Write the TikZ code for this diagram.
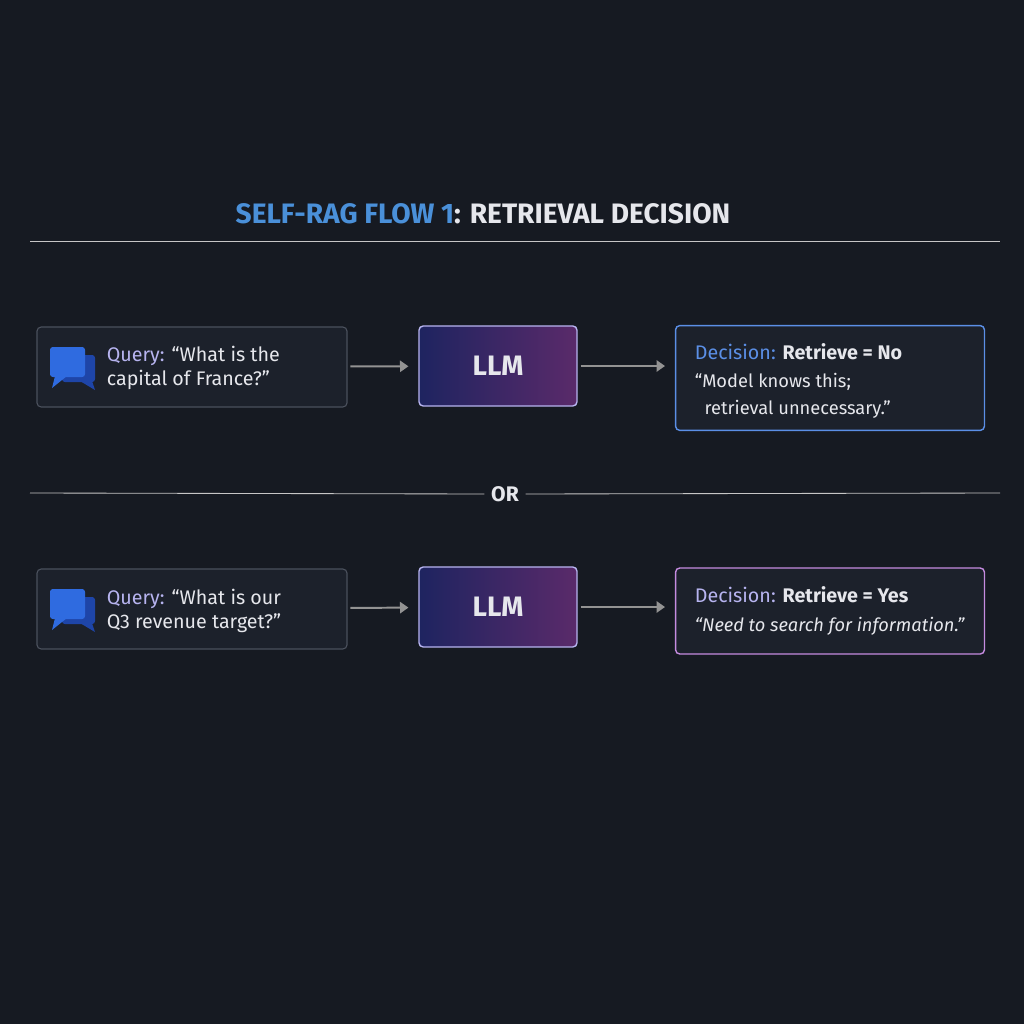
\documentclass[tikz,border=0pt]{standalone}
\usepackage{fontspec}
\setmainfont{Fira Sans}
\usetikzlibrary{positioning,arrows.meta,shadings,calc}
\definecolor{bgc}{HTML}{161A22}
\definecolor{boxc}{HTML}{1C212B}
\definecolor{edgec}{HTML}{4A505C}
\definecolor{blueT}{HTML}{4A90D9}
\definecolor{lilac}{HTML}{B7B4F0}
\definecolor{txt}{HTML}{E6E7EC}
\definecolor{bluebox}{HTML}{5B8FE6}
\definecolor{pinkbox}{HTML}{C58BE0}
\definecolor{llmL}{HTML}{1E2460}
\definecolor{llmR}{HTML}{5A2A6A}
\definecolor{bubF}{HTML}{2F6BE0}
\definecolor{bubB}{HTML}{1E45A8}
\newcommand\qsize{\fontsize{13}{15}\selectfont}
\tikzset{
  qbox/.style={draw=edgec, fill=boxc, rounded corners=3pt, line width=0.8pt,
    minimum width=7.75cm, minimum height=2cm},
  llm/.style={draw=lilac, rounded corners=3pt, line width=1pt,
    left color=llmL, right color=llmR,
    minimum width=3.95cm, minimum height=2cm, text=txt, font=\fontsize{20}{20}\selectfont\bfseries},
  dbox/.style={draw=#1, fill=boxc, rounded corners=3pt, line width=1pt,
    minimum width=7.72cm},
  flow/.style={-{Triangle[length=6pt,width=8pt]}, draw=gray!85, line width=1.4pt,
    shorten <=2pt, shorten >=7pt},
  sep/.style={draw=gray!45, line width=0.6pt}
}
\newcommand\bubble[1]{
  \fill[bubB, rounded corners=2pt] ($(#1)+(-10,-9)$) rectangle ($(#1)+(23,18)$);
  \fill[bubB] ($(#1)+(8,17)$) -- ($(#1)+(23,26)$) -- ($(#1)+(20,17)$) -- cycle;
  \fill[bubF, rounded corners=2pt] ($(#1)+(-22,-17)$) rectangle ($(#1)+(13,13)$);
  \fill[bubF] ($(#1)+(-17,12)$) -- ($(#1)+(-20,24)$) -- ($(#1)+(-5,12)$) -- cycle;
}
\begin{document}
\begin{tikzpicture}[x=0.025cm,y=-0.025cm]
\fill[bgc] (0,0) rectangle (1024,1024);
\useasboundingbox (0,0) rectangle (1024,1024);
\fontsize{14}{17}\selectfont

\node[font=\fontsize{20}{20}\selectfont\bfseries] (title) at (483,214)
  {\textcolor{blueT}{SELF-RAG FLOW 1}\textcolor{txt}{: RETRIEVAL DECISION}};
\coordinate (tl) at (30,241);
\coordinate (tr) at (1000,241);
\draw[sep] (tl) -- (tr);

% first query
\node[qbox] (q1) at (192,367) {};
\bubble{72,364}
\node[anchor=west, align=left, text=txt] (q1t) at (100,368)
  {\textcolor{lilac}{Query:} “What is the\\capital of France?”};
\node[llm] (l1) at (498,366) {LLM};
\node[dbox=bluebox, minimum height=2.62cm] (d1) at (830,378) {};
\node[anchor=west, align=left, text=txt] (d1t) at (688,381)
  {\textcolor{bluebox}{Decision:} \textbf{Retrieve = No}\\[3pt]
   {\qsize “Model knows this;}\\[2pt] {\qsize\ \ retrieval unnecessary.”}};
\draw[flow] (q1) -- (l1);
\draw[flow] (l1) -- (l1 -| d1.west);

% separator
\node[text=txt, font=\fontsize{15}{15}\selectfont\bfseries] (or) at (505,494) {OR};
\coordinate (ol) at (30,493);
\coordinate (orr) at (1000,493);
\draw[sep] (ol) -- (or.west);
\draw[sep] (or.east) -- (orr);

% second query
\node[qbox] (q2) at (192,609) {};
\bubble{72,606}
\node[anchor=west, align=left, text=txt] (q2t) at (100,611)
  {\textcolor{lilac}{Query:} “What is our\\Q3 revenue target?”};
\node[llm] (l2) at (498,607) {LLM};
\node[dbox=pinkbox, minimum height=2.15cm] (d2) at (830,611) {};
\node[anchor=west, align=left, text=txt] (d2t) at (688,611)
  {\textcolor{lilac}{Decision:} \textbf{Retrieve = Yes}\\[4pt]
   {\qsize\itshape “Need to search for information.”}};
\draw[flow] (q2) -- (l2);
\draw[flow] (l2) -- (l2 -| d2.west);
\end{tikzpicture}
\end{document}
